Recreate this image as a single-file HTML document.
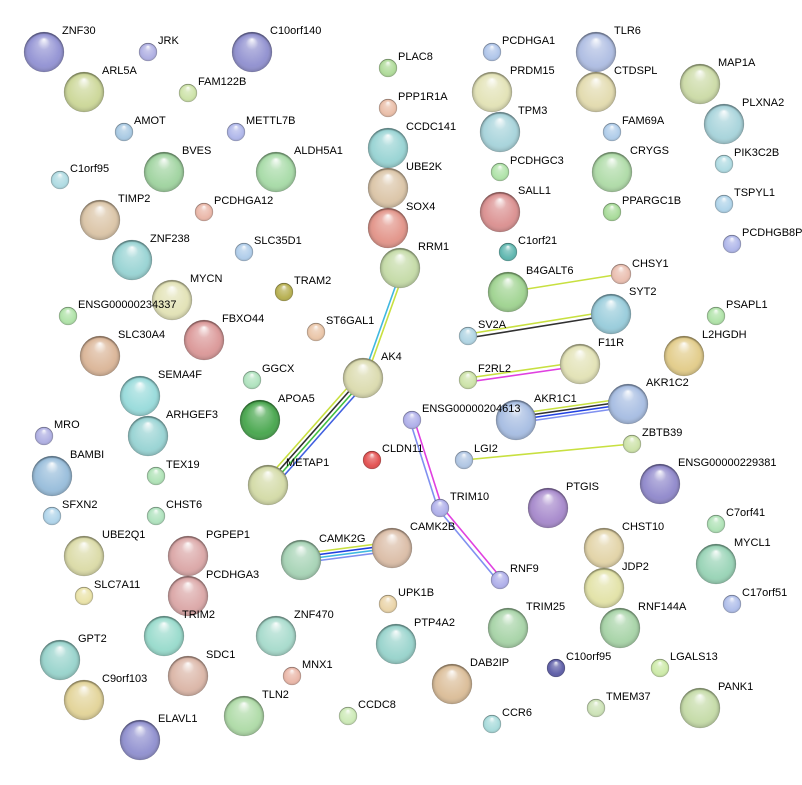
<!DOCTYPE html>
<html><head><meta charset="utf-8"><style>
html,body{margin:0;padding:0;background:#fff;}
svg{display:block;}
text{font-family:"Liberation Sans",sans-serif;font-size:11px;fill:#000;}
</style></head><body>
<svg width="802" height="785" viewBox="0 0 802 785" xmlns="http://www.w3.org/2000/svg">
<defs>
<radialGradient id="d" cx="50%" cy="55%" r="52%" fx="50%" fy="18%"><stop offset="0" stop-color="#fff" stop-opacity="0.95"/><stop offset="0.3" stop-color="#fff" stop-opacity="0.35"/><stop offset="0.75" stop-color="#fff" stop-opacity="0.1"/><stop offset="1" stop-color="#000" stop-opacity="0.35"/></radialGradient>
</defs>
<g fill="none" stroke-width="1.6">
<line x1="402" y1="268" x2="362" y2="380" stroke="#40b8e0"/><line x1="405" y1="269" x2="365" y2="381" stroke="#c8e040"/>
<line x1="356" y1="378" x2="264" y2="482" stroke="#c8e040"/><line x1="359" y1="380" x2="267" y2="484" stroke="#303030"/><line x1="362" y1="382" x2="270" y2="486" stroke="#40c040"/><line x1="365" y1="384" x2="273" y2="488" stroke="#4060e0"/>
<line x1="508" y1="292" x2="621" y2="274" stroke="#c8e040"/>
<line x1="468" y1="334" x2="611" y2="311" stroke="#c8e040"/><line x1="468" y1="338" x2="611" y2="315" stroke="#303030"/>
<line x1="468" y1="378" x2="580" y2="362" stroke="#c8e040"/><line x1="468" y1="382" x2="580" y2="366" stroke="#e040e0"/>
<line x1="516" y1="414" x2="628" y2="398" stroke="#c8e040"/><line x1="516" y1="417" x2="628" y2="401" stroke="#303030"/><line x1="516" y1="420" x2="628" y2="404" stroke="#2040e0"/><line x1="516" y1="423" x2="628" y2="407" stroke="#8090f0"/>
<line x1="464" y1="460" x2="632" y2="444" stroke="#c8e040"/>
<line x1="410" y1="421" x2="438" y2="509" stroke="#8090f0"/><line x1="414" y1="419" x2="442" y2="507" stroke="#e040e0"/>
<line x1="438" y1="509" x2="498" y2="581" stroke="#8090f0"/><line x1="442" y1="507" x2="502" y2="579" stroke="#e040e0"/>
<line x1="300" y1="554" x2="392" y2="542" stroke="#c8e040"/><line x1="300" y1="557" x2="392" y2="545" stroke="#2040e0"/><line x1="300" y1="560" x2="392" y2="548" stroke="#40b8e0"/><line x1="300" y1="563" x2="392" y2="551" stroke="#8090f0"/>
</g>
<g stroke="#0003" stroke-width="0.5">
<circle cx="44" cy="52" r="20" fill="#8a8ad0"/><circle cx="148" cy="52" r="9" fill="#a8a8e0"/><circle cx="252" cy="52" r="20" fill="#8888cc"/>
<circle cx="84" cy="92" r="20" fill="#c8d490"/><circle cx="188" cy="93" r="9" fill="#c8e0a0"/><circle cx="124" cy="132" r="9" fill="#a0c4e0"/><circle cx="236" cy="132" r="9" fill="#a8b0e8"/>
<circle cx="388" cy="68" r="9" fill="#a8d890"/><circle cx="388" cy="108" r="9" fill="#e8b8a0"/><circle cx="388" cy="148" r="20" fill="#90d0d0"/><circle cx="388" cy="188" r="20" fill="#d8c0a0"/><circle cx="388" cy="228" r="20" fill="#e08c80"/><circle cx="400" cy="268" r="20" fill="#c0d8a0"/>
<circle cx="492" cy="52" r="9" fill="#a8c0e8"/><circle cx="596" cy="52" r="20" fill="#a8b8e0"/><circle cx="492" cy="92" r="20" fill="#e0e0b0"/><circle cx="596" cy="92" r="20" fill="#e0d8a8"/><circle cx="500" cy="132" r="20" fill="#a0d0d8"/>
<circle cx="700" cy="84" r="20" fill="#c8d8a0"/><circle cx="724" cy="124" r="20" fill="#a0d0d8"/><circle cx="612" cy="132" r="9" fill="#a8c8e8"/><circle cx="724" cy="164" r="9" fill="#a8d8e0"/><circle cx="500" cy="172" r="9" fill="#a8e0a0"/><circle cx="612" cy="172" r="20" fill="#a8d8a0"/><circle cx="612" cy="212" r="9" fill="#a0d890"/><circle cx="724" cy="204" r="9" fill="#a8d0e8"/><circle cx="500" cy="212" r="20" fill="#d88888"/><circle cx="508" cy="252" r="9" fill="#50b0a8"/><circle cx="732" cy="244" r="9" fill="#a8b0e8"/>
<circle cx="508" cy="292" r="20" fill="#98d088"/><circle cx="621" cy="274" r="10" fill="#e8b8a8"/><circle cx="611" cy="314" r="20" fill="#90c8d8"/><circle cx="716" cy="316" r="9" fill="#a8e0a0"/><circle cx="468" cy="336" r="9" fill="#a8d0e0"/><circle cx="684" cy="356" r="20" fill="#e0c880"/><circle cx="580" cy="364" r="20" fill="#e0e0b0"/><circle cx="468" cy="380" r="9" fill="#c8e0a0"/><circle cx="628" cy="404" r="20" fill="#a0b8e0"/><circle cx="516" cy="420" r="20" fill="#a0b8e0"/><circle cx="632" cy="444" r="9" fill="#c8e0a0"/><circle cx="464" cy="460" r="9" fill="#a8c0e0"/>
<circle cx="660" cy="484" r="20" fill="#8880c8"/><circle cx="548" cy="508" r="20" fill="#a080c8"/><circle cx="716" cy="524" r="9" fill="#a8e0b0"/><circle cx="604" cy="548" r="20" fill="#e0d0a0"/><circle cx="716" cy="564" r="20" fill="#90d0b0"/><circle cx="604" cy="588" r="20" fill="#e0e0a0"/><circle cx="732" cy="604" r="9" fill="#a8b8e8"/><circle cx="508" cy="628" r="20" fill="#a0d0a0"/><circle cx="620" cy="628" r="20" fill="#a0d0a0"/><circle cx="556" cy="668" r="9" fill="#5050a0"/><circle cx="660" cy="668" r="9" fill="#c8e8a0"/><circle cx="452" cy="684" r="20" fill="#d8b890"/><circle cx="596" cy="708" r="9" fill="#c8e0b0"/><circle cx="700" cy="708" r="20" fill="#c0d8a0"/><circle cx="492" cy="724" r="9" fill="#a0d8d8"/>
<circle cx="60" cy="180" r="9" fill="#a8d8e0"/><circle cx="164" cy="172" r="20" fill="#98d098"/><circle cx="276" cy="172" r="20" fill="#a0d8a0"/><circle cx="100" cy="220" r="20" fill="#d8c0a0"/><circle cx="204" cy="212" r="9" fill="#e8b0a0"/><circle cx="244" cy="252" r="9" fill="#a8c8e8"/><circle cx="132" cy="260" r="20" fill="#90d0d0"/><circle cx="284" cy="292" r="9" fill="#b0a840"/><circle cx="172" cy="300" r="20" fill="#e0e0b0"/><circle cx="68" cy="316" r="9" fill="#a8e0a0"/><circle cx="316" cy="332" r="9" fill="#e8c0a0"/><circle cx="100" cy="356" r="20" fill="#d8b090"/><circle cx="204" cy="340" r="20" fill="#d89090"/><circle cx="252" cy="380" r="9" fill="#a8e0b8"/><circle cx="363" cy="378" r="20" fill="#d8d8a8"/><circle cx="140" cy="396" r="20" fill="#90d8d8"/><circle cx="260" cy="420" r="20" fill="#3aa040"/><circle cx="412" cy="420" r="9" fill="#a8a8e8"/><circle cx="44" cy="436" r="9" fill="#a8a8e0"/><circle cx="148" cy="436" r="20" fill="#90d0d0"/><circle cx="372" cy="460" r="9" fill="#e04040"/><circle cx="52" cy="476" r="20" fill="#90b8d8"/><circle cx="156" cy="476" r="9" fill="#a8e0b0"/><circle cx="268" cy="485" r="20" fill="#d0d8a0"/><circle cx="440" cy="508" r="9" fill="#a8a8e8"/><circle cx="52" cy="516" r="9" fill="#a8d0e8"/><circle cx="156" cy="516" r="9" fill="#a8e0b8"/>
<circle cx="84" cy="556" r="20" fill="#d8d8a0"/><circle cx="188" cy="556" r="20" fill="#d8a0a0"/><circle cx="301" cy="560" r="20" fill="#a0d0b0"/><circle cx="392" cy="548" r="20" fill="#d8b8a0"/><circle cx="84" cy="596" r="9" fill="#e8e0a0"/><circle cx="188" cy="596" r="20" fill="#d8a0a0"/><circle cx="500" cy="580" r="9" fill="#a8a8e8"/><circle cx="388" cy="604" r="9" fill="#e8d0a0"/><circle cx="164" cy="636" r="20" fill="#90d8c8"/><circle cx="276" cy="636" r="20" fill="#a0d8c8"/><circle cx="396" cy="644" r="20" fill="#90d0c8"/><circle cx="60" cy="660" r="20" fill="#90d0c8"/><circle cx="188" cy="676" r="20" fill="#d8b0a0"/><circle cx="292" cy="676" r="9" fill="#e8b0a0"/><circle cx="84" cy="700" r="20" fill="#e0d090"/><circle cx="244" cy="716" r="20" fill="#a8d8a0"/><circle cx="348" cy="716" r="9" fill="#c8e8b0"/><circle cx="140" cy="740" r="20" fill="#8888cc"/>
</g>
<g fill="url(#d)">
<circle cx="44" cy="52" r="20"/><circle cx="148" cy="52" r="9"/><circle cx="252" cy="52" r="20"/><circle cx="84" cy="92" r="20"/><circle cx="188" cy="93" r="9"/><circle cx="124" cy="132" r="9"/><circle cx="236" cy="132" r="9"/><circle cx="388" cy="68" r="9"/><circle cx="388" cy="108" r="9"/><circle cx="388" cy="148" r="20"/><circle cx="388" cy="188" r="20"/><circle cx="388" cy="228" r="20"/><circle cx="400" cy="268" r="20"/><circle cx="492" cy="52" r="9"/><circle cx="596" cy="52" r="20"/><circle cx="492" cy="92" r="20"/><circle cx="596" cy="92" r="20"/><circle cx="500" cy="132" r="20"/><circle cx="700" cy="84" r="20"/><circle cx="724" cy="124" r="20"/><circle cx="612" cy="132" r="9"/><circle cx="724" cy="164" r="9"/><circle cx="500" cy="172" r="9"/><circle cx="612" cy="172" r="20"/><circle cx="612" cy="212" r="9"/><circle cx="724" cy="204" r="9"/><circle cx="500" cy="212" r="20"/><circle cx="508" cy="252" r="9"/><circle cx="732" cy="244" r="9"/><circle cx="508" cy="292" r="20"/><circle cx="621" cy="274" r="10"/><circle cx="611" cy="314" r="20"/><circle cx="716" cy="316" r="9"/><circle cx="468" cy="336" r="9"/><circle cx="684" cy="356" r="20"/><circle cx="580" cy="364" r="20"/><circle cx="468" cy="380" r="9"/><circle cx="628" cy="404" r="20"/><circle cx="516" cy="420" r="20"/><circle cx="632" cy="444" r="9"/><circle cx="464" cy="460" r="9"/><circle cx="660" cy="484" r="20"/><circle cx="548" cy="508" r="20"/><circle cx="716" cy="524" r="9"/><circle cx="604" cy="548" r="20"/><circle cx="716" cy="564" r="20"/><circle cx="604" cy="588" r="20"/><circle cx="732" cy="604" r="9"/><circle cx="508" cy="628" r="20"/><circle cx="620" cy="628" r="20"/><circle cx="556" cy="668" r="9"/><circle cx="660" cy="668" r="9"/><circle cx="452" cy="684" r="20"/><circle cx="596" cy="708" r="9"/><circle cx="700" cy="708" r="20"/><circle cx="492" cy="724" r="9"/><circle cx="60" cy="180" r="9"/><circle cx="164" cy="172" r="20"/><circle cx="276" cy="172" r="20"/><circle cx="100" cy="220" r="20"/><circle cx="204" cy="212" r="9"/><circle cx="244" cy="252" r="9"/><circle cx="132" cy="260" r="20"/><circle cx="284" cy="292" r="9"/><circle cx="172" cy="300" r="20"/><circle cx="68" cy="316" r="9"/><circle cx="316" cy="332" r="9"/><circle cx="100" cy="356" r="20"/><circle cx="204" cy="340" r="20"/><circle cx="252" cy="380" r="9"/><circle cx="363" cy="378" r="20"/><circle cx="140" cy="396" r="20"/><circle cx="260" cy="420" r="20"/><circle cx="412" cy="420" r="9"/><circle cx="44" cy="436" r="9"/><circle cx="148" cy="436" r="20"/><circle cx="372" cy="460" r="9"/><circle cx="52" cy="476" r="20"/><circle cx="156" cy="476" r="9"/><circle cx="268" cy="485" r="20"/><circle cx="440" cy="508" r="9"/><circle cx="52" cy="516" r="9"/><circle cx="156" cy="516" r="9"/><circle cx="84" cy="556" r="20"/><circle cx="188" cy="556" r="20"/><circle cx="301" cy="560" r="20"/><circle cx="392" cy="548" r="20"/><circle cx="84" cy="596" r="9"/><circle cx="188" cy="596" r="20"/><circle cx="500" cy="580" r="9"/><circle cx="388" cy="604" r="9"/><circle cx="164" cy="636" r="20"/><circle cx="276" cy="636" r="20"/><circle cx="396" cy="644" r="20"/><circle cx="60" cy="660" r="20"/><circle cx="188" cy="676" r="20"/><circle cx="292" cy="676" r="9"/><circle cx="84" cy="700" r="20"/><circle cx="244" cy="716" r="20"/><circle cx="348" cy="716" r="9"/><circle cx="140" cy="740" r="20"/>
</g>
<g>
<text x="62" y="34">ZNF30</text><text x="158" y="44">JRK</text><text x="270" y="34">C10orf140</text><text x="102" y="74">ARL5A</text><text x="198" y="85">FAM122B</text><text x="134" y="124">AMOT</text><text x="246" y="124">METTL7B</text>
<text x="398" y="60">PLAC8</text><text x="398" y="100">PPP1R1A</text><text x="406" y="130">CCDC141</text><text x="406" y="170">UBE2K</text><text x="406" y="210">SOX4</text><text x="418" y="250">RRM1</text>
<text x="502" y="44">PCDHGA1</text><text x="614" y="34">TLR6</text><text x="510" y="74">PRDM15</text><text x="614" y="74">CTDSPL</text><text x="518" y="114">TPM3</text><text x="718" y="66">MAP1A</text><text x="742" y="106">PLXNA2</text><text x="622" y="124">FAM69A</text><text x="734" y="156">PIK3C2B</text><text x="510" y="164">PCDHGC3</text><text x="630" y="154">CRYGS</text><text x="622" y="204">PPARGC1B</text><text x="734" y="196">TSPYL1</text><text x="518" y="194">SALL1</text><text x="518" y="244">C1orf21</text><text x="742" y="236">PCDHGB8P</text>
<text x="526" y="274">B4GALT6</text><text x="632" y="267">CHSY1</text><text x="629" y="295">SYT2</text><text x="726" y="308">PSAPL1</text><text x="478" y="328">SV2A</text><text x="702" y="338">L2HGDH</text><text x="598" y="346">F11R</text><text x="478" y="372">F2RL2</text><text x="646" y="386">AKR1C2</text><text x="534" y="402">AKR1C1</text><text x="642" y="436">ZBTB39</text><text x="474" y="452">LGI2</text>
<text x="678" y="466">ENSG00000229381</text><text x="566" y="490">PTGIS</text><text x="726" y="516">C7orf41</text><text x="622" y="530">CHST10</text><text x="734" y="546">MYCL1</text><text x="622" y="570">JDP2</text><text x="742" y="596">C17orf51</text><text x="526" y="610">TRIM25</text><text x="638" y="610">RNF144A</text><text x="566" y="660">C10orf95</text><text x="670" y="660">LGALS13</text><text x="470" y="666">DAB2IP</text><text x="606" y="700">TMEM37</text><text x="718" y="690">PANK1</text><text x="502" y="716">CCR6</text>
<text x="70" y="172">C1orf95</text><text x="182" y="154">BVES</text><text x="294" y="154">ALDH5A1</text><text x="118" y="202">TIMP2</text><text x="214" y="204">PCDHGA12</text><text x="254" y="244">SLC35D1</text><text x="150" y="242">ZNF238</text><text x="294" y="284">TRAM2</text><text x="190" y="282">MYCN</text><text x="78" y="308">ENSG00000234337</text><text x="326" y="324">ST6GAL1</text><text x="118" y="338">SLC30A4</text><text x="222" y="322">FBXO44</text><text x="262" y="372">GGCX</text><text x="381" y="360">AK4</text><text x="158" y="378">SEMA4F</text><text x="278" y="402">APOA5</text><text x="422" y="412">ENSG00000204613</text><text x="54" y="428">MRO</text><text x="166" y="418">ARHGEF3</text><text x="382" y="452">CLDN11</text><text x="70" y="458">BAMBI</text><text x="166" y="468">TEX19</text><text x="286" y="466">METAP1</text><text x="450" y="500">TRIM10</text><text x="62" y="508">SFXN2</text><text x="166" y="508">CHST6</text>
<text x="102" y="538">UBE2Q1</text><text x="206" y="538">PGPEP1</text><text x="319" y="542">CAMK2G</text><text x="410" y="530">CAMK2B</text><text x="94" y="588">SLC7A11</text><text x="206" y="578">PCDHGA3</text><text x="510" y="572">RNF9</text><text x="398" y="596">UPK1B</text><text x="182" y="618">TRIM2</text><text x="294" y="618">ZNF470</text><text x="414" y="626">PTP4A2</text><text x="78" y="642">GPT2</text><text x="206" y="658">SDC1</text><text x="302" y="668">MNX1</text><text x="102" y="682">C9orf103</text><text x="262" y="698">TLN2</text><text x="358" y="708">CCDC8</text><text x="158" y="722">ELAVL1</text>
</g>
</svg>
</body></html>
